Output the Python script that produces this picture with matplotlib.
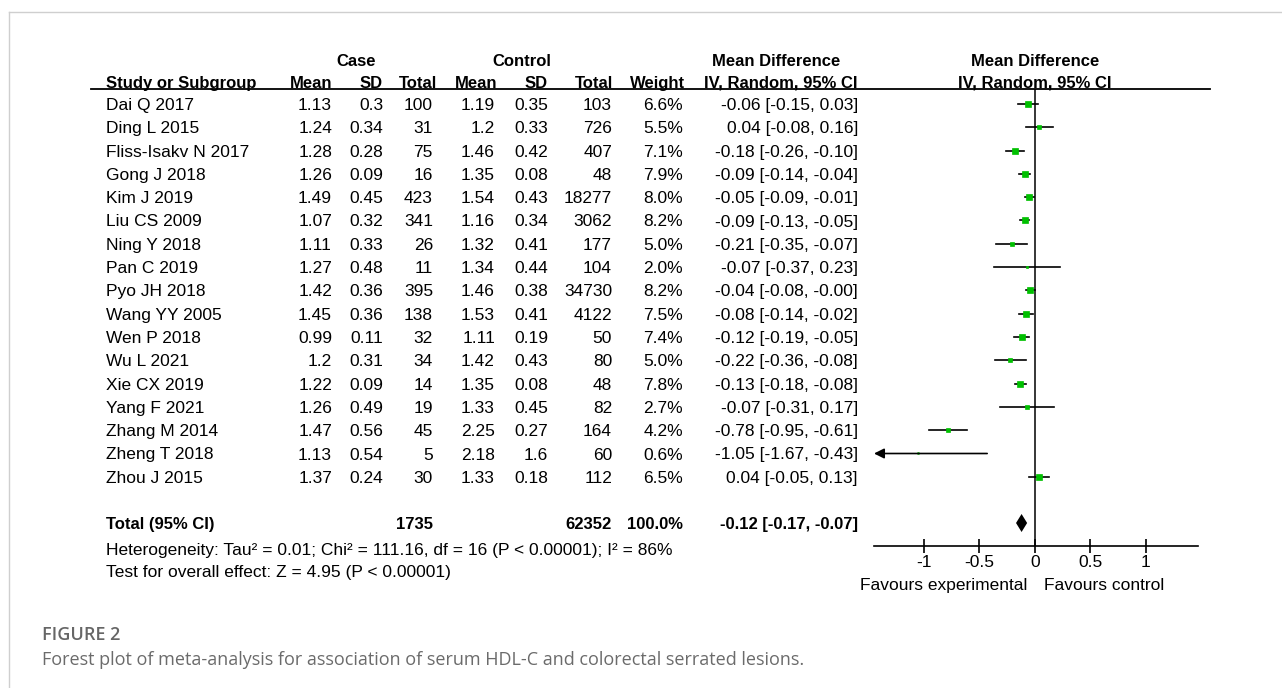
import numpy as np
import matplotlib.pyplot as plt
import matplotlib.transforms as mtrans

# ---------------------------------------------------------------
# data
# ---------------------------------------------------------------
studies = ["Dai Q 2017", "Ding L 2015", "Fliss-Isakv N 2017", "Gong J 2018",
           "Kim J 2019", "Liu CS 2009", "Ning Y 2018", "Pan C 2019",
           "Pyo JH 2018", "Wang YY 2005", "Wen P 2018", "Wu L 2021",
           "Xie CX 2019", "Yang F 2021", "Zhang M 2014", "Zheng T 2018",
           "Zhou J 2015"]
case_mean = [1.13, 1.24, 1.28, 1.26, 1.49, 1.07, 1.11, 1.27, 1.42, 1.45,
             0.99, 1.2, 1.22, 1.26, 1.47, 1.13, 1.37]
case_sd = [0.3, 0.34, 0.28, 0.09, 0.45, 0.32, 0.33, 0.48, 0.36, 0.36,
           0.11, 0.31, 0.09, 0.49, 0.56, 0.54, 0.24]
case_n = [100, 31, 75, 16, 423, 341, 26, 11, 395, 138, 32, 34, 14, 19, 45, 5, 30]
ctrl_mean = [1.19, 1.2, 1.46, 1.35, 1.54, 1.16, 1.32, 1.34, 1.46, 1.53,
             1.11, 1.42, 1.35, 1.33, 2.25, 2.18, 1.33]
ctrl_sd = [0.35, 0.33, 0.42, 0.08, 0.43, 0.34, 0.41, 0.44, 0.38, 0.41,
           0.19, 0.43, 0.08, 0.45, 0.27, 1.6, 0.18]
ctrl_n = [103, 726, 407, 48, 18277, 3062, 177, 104, 34730, 4122, 50, 80,
          48, 82, 164, 60, 112]
weight = [6.6, 5.5, 7.1, 7.9, 8.0, 8.2, 5.0, 2.0, 8.2, 7.5, 7.4, 5.0, 7.8,
          2.7, 4.2, 0.6, 6.5]
md = [-0.06, 0.04, -0.18, -0.09, -0.05, -0.09, -0.21, -0.07, -0.04, -0.08,
      -0.12, -0.22, -0.13, -0.07, -0.78, -1.05, 0.04]
ci_lo = [-0.15, -0.08, -0.26, -0.14, -0.09, -0.13, -0.35, -0.37, -0.08, -0.14,
         -0.19, -0.36, -0.18, -0.31, -0.95, -1.67, -0.05]
ci_hi = [0.03, 0.16, -0.10, -0.04, -0.01, -0.05, -0.07, 0.23, -0.00, -0.02,
         -0.05, -0.08, -0.08, 0.17, -0.61, -0.43, 0.13]

total_case_n = 1735
total_ctrl_n = 62352
total_weight = 100.0
total_md, total_lo, total_hi = -0.12, -0.17, -0.07

heterogeneity = "Heterogeneity: Tau\u00b2 = 0.01; Chi\u00b2 = 111.16, df = 16 (P < 0.00001); I\u00b2 = 86%"
overall = "Test for overall effect: Z = 4.95 (P < 0.00001)"
xticks = [-1, -0.5, 0, 0.5, 1]
xtick_labels = ["-1", "-0.5", "0", "0.5", "1"]

# ---------------------------------------------------------------
# layout (pixels of the 1282x688 canvas)
# ---------------------------------------------------------------
W, H = 1282, 688
ROW0, STEP = 104, 23.3
FS = 12.5
TXT = "Liberation Sans"


def row_px(r):
    return ROW0 + STEP * r


def px_row(p):
    return (p - ROW0) / STEP


fig = plt.figure(figsize=(W / 100, H / 100), dpi=100)
tab = fig.add_axes([0, 0, 1, 1])
tab.set_xlim(0, W)
tab.set_ylim(H, 0)
tab.axis("off")

# light frame of the journal figure
tab.plot([9, 9], [12, H], color="#cfcfcf", lw=1)
tab.plot([9, W], [12, 12], color="#cfcfcf", lw=1)


def put(x, y, s, ha="right", bold=False):
    tab.text(x, y + 6, s, ha=ha, va="baseline", fontsize=FS if not bold else 12,
             family=TXT, fontweight="bold" if bold else "normal", color="black")


# headers
put(356, 60, "Case", ha="center", bold=True)
put(522, 60, "Control", ha="center", bold=True)
put(776, 60, "Mean Difference", ha="center", bold=True)
put(1035, 60, "Mean Difference", ha="center", bold=True)
put(106, 82, "Study or Subgroup", ha="left", bold=True)
for x, s in [(332, "Mean"), (383, "SD"), (437, "Total"), (497, "Mean"),
             (548, "SD"), (613, "Total"), (685, "Weight"), (857, "IV, Random, 95% CI")]:
    put(x, 82, s, bold=True)
put(1035, 82, "IV, Random, 95% CI", ha="center", bold=True)
tab.plot([91, 1210], [89, 89], color="black", lw=1.3)

# study rows
for i, name in enumerate(studies):
    y = row_px(i)
    put(106, y, name, ha="left")
    put(332, y, f"{case_mean[i]}")
    put(383, y, f"{case_sd[i]}")
    put(433, y, f"{case_n[i]}")
    put(495, y, f"{ctrl_mean[i]}")
    put(548, y, f"{ctrl_sd[i]}")
    put(612, y, f"{ctrl_n[i]}")
    put(683, y, f"{weight[i]:.1f}%")
    put(858, y, f"{md[i]:.2f} [{ci_lo[i]:.2f}, {ci_hi[i]:.2f}]")

# total row
r_tot = px_row(523)
yt = row_px(r_tot)
put(106, yt, "Total (95% CI)", ha="left", bold=True)
put(433, yt, f"{total_case_n}", bold=True)
put(612, yt, f"{total_ctrl_n}", bold=True)
put(683, yt, f"{total_weight:.1f}%", bold=True)
put(858, yt, f"{total_md:.2f} [{total_lo:.2f}, {total_hi:.2f}]", bold=True)
put(106, 549, heterogeneity, ha="left")
put(106, 571, overall, ha="left")

# ---------------------------------------------------------------
# forest panel
# ---------------------------------------------------------------
ax_l, ax_r, ax_t, ax_b = 874, 1198, 89, 546
fx = fig.add_axes([ax_l / W, 1 - ax_b / H, (ax_r - ax_l) / W, (ax_b - ax_t) / H])
fx.patch.set_alpha(0)
xmin, xmax = -1.45, 1.47
fx.set_xlim(xmin, xmax)
fx.set_ylim(px_row(ax_b), px_row(ax_t))
for s in ["top", "left", "right"]:
    fx.spines[s].set_visible(False)
fx.spines["bottom"].set_linewidth(1.2)
fx.set_yticks([])
fx.set_xticks(xticks)
fx.set_xticklabels(xtick_labels, family=TXT, fontsize=FS)
fx.tick_params(axis="x", direction="inout", length=9.5, width=1.2, pad=2)
fx.axvline(0, color="black", lw=1.1)

for i in range(len(studies)):
    if ci_lo[i] < xmin:
        fx.annotate("", xy=(xmin, i), xytext=(ci_hi[i], i),
                    arrowprops=dict(arrowstyle="-|>,head_length=0.6,head_width=0.3",
                                    color="black", lw=1.2, shrinkA=0, shrinkB=0))
    else:
        fx.plot([ci_lo[i], ci_hi[i]], [i, i], color="black", lw=1.2)
    fx.plot(md[i], i, marker="s", ms=1.5 * np.sqrt(weight[i]), color="#00c000",
            mec="#00c000", mew=0.5)

dh = 9 / STEP
fx.fill([total_lo, total_md, total_hi, total_md],
        [r_tot, r_tot - dh, r_tot, r_tot + dh], color="black", lw=0)

fav = mtrans.blended_transform_factory(fx.transData, tab.transData)
tab.text(-0.07, 590, "Favours experimental", transform=fav, ha="right",
         va="baseline", family=TXT, fontsize=FS)
tab.text(0.08, 590, "Favours control", transform=fav, ha="left",
         va="baseline", family=TXT, fontsize=FS)

# caption
tab.text(42, 640, "FIGURE 2", ha="left", va="baseline", family="Open Sans",
         fontweight="semibold", fontsize=13, color="#666666")
tab.text(42, 665, "Forest plot of meta-analysis for association of serum HDL-C "
         "and colorectal serrated lesions.", ha="left", va="baseline",
         family="Open Sans", fontsize=13, color="#6b6b6b")

fig.savefig("out.png", dpi=100, facecolor="white")
